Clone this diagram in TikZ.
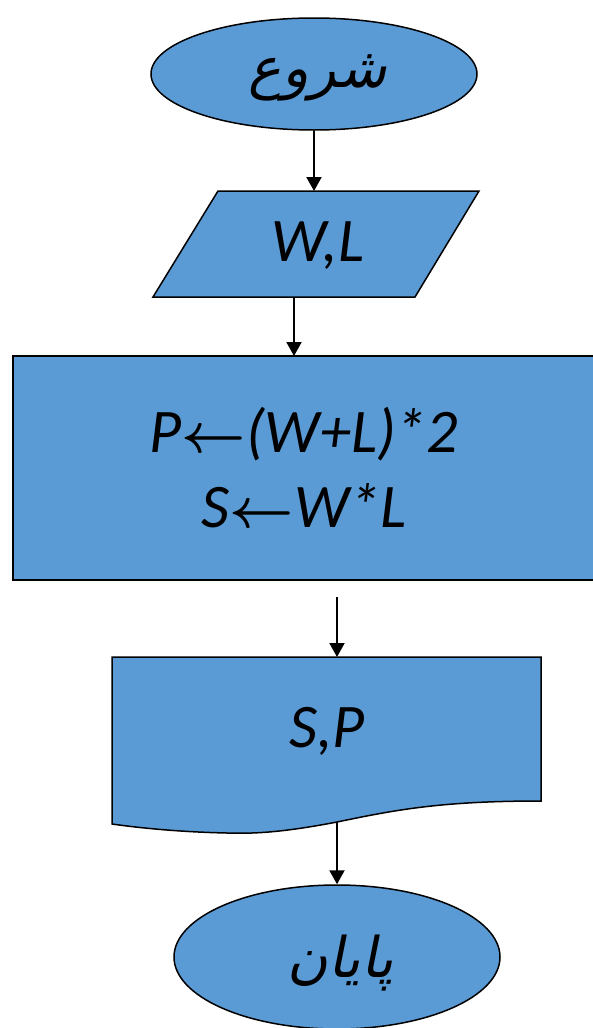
\documentclass[tikz,border=0pt]{standalone}
\usepackage{fontspec}
\usepackage{graphicx}
\setmainfont{Carlito}
\newfontfamily\arabicfont[Script=Arabic,FakeSlant=0.2]{DejaVu Sans}
\TeXXeTstate=1
\usetikzlibrary{shapes.geometric,arrows.meta}
\definecolor{boxblue}{HTML}{5B9BD5}
\newcommand{\assignarrow}{\scalebox{5.6}{\fontsize{10}{12}\selectfont\boldmath$\leftarrow$}}
\begin{document}
\begin{tikzpicture}[x=1pt,y=-1pt,
  shapestyle/.style={draw=black, line width=1.5pt, fill=boxblue},
  term/.style={shapestyle, ellipse, inner sep=0pt},
  txt/.style={font=\fontsize{62}{75}\selectfont\itshape, inner sep=0pt, align=center},
  artxt/.style={font=\fontsize{56}{60}\selectfont\arabicfont, inner sep=0pt},
  flow/.style={line width=2pt, -{Triangle[width=15pt,length=14pt]}}]
\useasboundingbox (0,0) rectangle (593,1028);
% start
\node[term, minimum width=326pt, minimum height=112pt] (start) at (314,74) {};
\node[artxt] (starttxt) at (318,78) {\beginR شروع\endR};
% input
\draw[shapestyle] (218,191) -- (479,191) -- (415,297) -- (153,297) -- cycle;
\coordinate (inTop) at (314,191);
\coordinate (inBot) at (294,297);
\node[txt] (intxt) at (318,246) {W,L};
% process
\node[shapestyle, rectangle, minimum width=582pt, minimum height=224pt, inner sep=0pt,
      font=\fontsize{62}{75}\selectfont\itshape, align=center] (proc) at (304,468)
      {P\assignarrow(W+L)*2\\S\assignarrow W*L};
\coordinate (procTop) at (294,356);
\coordinate (gapStart) at (337,597);
% output document
\draw[shapestyle] (112,657) -- (541,657) -- (541,801)
  .. controls (440,801) and (395,810) .. (337,822)
  .. controls (285,832) and (255,834) .. (227,833)
  .. controls (180,832) and (140,828) .. (112,824) -- cycle;
\coordinate (outTop) at (337,657);
\coordinate (outBot) at (337,822);
\node[txt] (outtxt) at (327,731) {S,P};
% end
\node[term, minimum width=326pt, minimum height=144pt] (stop) at (337,957) {};
\node[artxt] (stoptxt) at (341,963) {\beginR پایان\endR};
% arrows
\draw[flow] (start.south) -- (inTop);
\draw[flow] (inBot) -- (procTop);
\draw[flow] (gapStart) -- (outTop);
\draw[flow] (outBot) -- (stop.north);
\end{tikzpicture}
\end{document}
